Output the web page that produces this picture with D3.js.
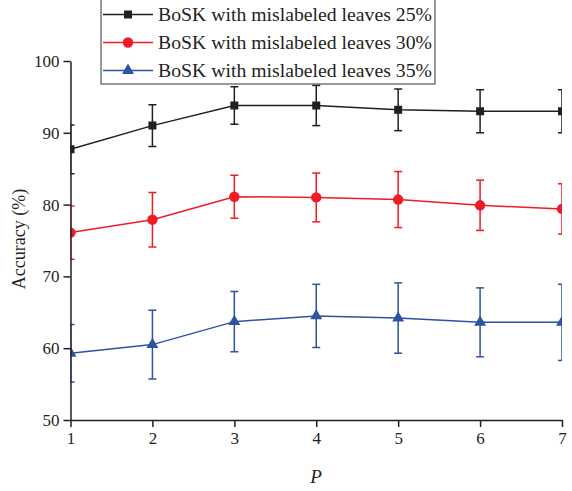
<!DOCTYPE html>
<html lang="en">
<head>
  <meta charset="UTF-8">
  <title>Accuracy vs P</title>
  <script src="https://d3js.org/d3.v7.min.js"></script>
  <style>
    body { margin: 0; background: #fff; }
    text { font-family: "Liberation Serif", serif; fill: #231f20; }
  </style>
</head>
<body>
  <div id="chart"></div>
  <script>
    // values
    const pValues = [1, 2, 3, 4, 5, 6, 7];
    const acc25 = [87.7, 91.0, 93.8, 93.8, 93.2, 93.0, 93.0];
    const err25 = [3.4, 2.9, 2.6, 2.8, 2.9, 3.0, 3.0];
    const acc30 = [76.1, 77.9, 81.1, 81.0, 80.7, 79.9, 79.4];
    const err30 = [3.7, 3.8, 3.0, 3.4, 3.9, 3.5, 3.5];
    const acc35 = [59.3, 60.5, 63.7, 64.5, 64.2, 63.6, 63.6];
    const err35 = [4.0, 4.8, 4.2, 4.4, 4.9, 4.8, 5.3];
    const seriesNames = ["BoSK with mislabeled leaves 25%", "BoSK with mislabeled leaves 30%", "BoSK with mislabeled leaves 35%"];
    const yTicks = [50, 60, 70, 80, 90, 100];

    const width = 572, height = 491;
    const margin = { top: 61, right: 10, bottom: 71, left: 70.5 };
    const colors = ["#231f20", "#ee1c25", "#2d53a3"];
    const shapes = [d3.symbolSquare, d3.symbolCircle, d3.symbolTriangle];
    const sizes = [64, 85, 62];

    const series = [acc25, acc30, acc35].map((vals, i) => ({
      name: seriesNames[i],
      color: colors[i],
      shape: shapes[i],
      size: sizes[i],
      points: pValues.map((p, j) => ({ p, v: vals[j], e: [err25, err30, err35][i][j] }))
    }));

    const x = d3.scaleLinear().domain([1, 7]).range([margin.left, 562]);
    const y = d3.scaleLinear().domain([50, 100]).range([420, margin.top]);

    const svg = d3.select("#chart").append("svg").attr("width", width).attr("height", height);

    svg.append("defs").append("clipPath").attr("id", "plotClip")
      .append("rect").attr("x", x(1)).attr("y", 0).attr("width", x(7) - x(1)).attr("height", y(50));

    const plot = svg.append("g").attr("clip-path", "url(#plotClip)");
    const line = d3.line().x(d => x(d.p)).y(d => y(d.v));

    series.forEach(s => {
      const g = plot.append("g");
      // error bars
      const eb = g.selectAll(".eb").data(s.points).enter().append("g");
      eb.append("line")
        .attr("x1", d => x(d.p)).attr("x2", d => x(d.p))
        .attr("y1", d => y(d.v - d.e)).attr("y2", d => y(d.v + d.e))
        .attr("stroke", s.color).attr("stroke-width", 1.5);
      [-1, 1].forEach(sign => {
        eb.append("line")
          .attr("x1", d => x(d.p) - 4).attr("x2", d => x(d.p) + 4)
          .attr("y1", d => y(d.v + sign * d.e)).attr("y2", d => y(d.v + sign * d.e))
          .attr("stroke", s.color).attr("stroke-width", 1.5);
      });
      g.append("path").datum(s.points)
        .attr("d", line).attr("fill", "none")
        .attr("stroke", s.color).attr("stroke-width", 1.5);
      g.selectAll(".mk").data(s.points).enter().append("path")
        .attr("transform", d => `translate(${x(d.p)},${y(d.v)})`)
        .attr("d", d3.symbol().type(s.shape).size(s.size))
        .attr("fill", s.color);
    });

    // axes
    const yAxis = d3.axisLeft(y).tickValues(yTicks).tickSize(7).tickSizeOuter(0).tickPadding(4);
    const xAxis = d3.axisBottom(x).tickValues(pValues).tickFormat(d3.format("d")).tickSize(7).tickSizeOuter(0).tickPadding(5);

    const gy = svg.append("g").attr("transform", `translate(${margin.left},0)`).call(yAxis);
    const gx = svg.append("g").attr("transform", `translate(0,${y(50)})`).call(xAxis);
    [gy, gx].forEach(g => {
      g.selectAll("path, line").attr("stroke", "#231f20").attr("stroke-width", 1.5);
      g.selectAll("text").style("font-family", "Liberation Serif").style("font-size", "17px").attr("fill", "#231f20");
    });

    svg.append("text")
      .attr("transform", `translate(25,239) rotate(-90)`)
      .attr("text-anchor", "middle")
      .style("font-size", "18px")
      .text("Accuracy (%)");

    svg.append("text")
      .attr("x", 316).attr("y", 483)
      .attr("text-anchor", "middle")
      .style("font-size", "19px").style("font-style", "italic")
      .text("P");

    // legend
    const legend = svg.append("g");
    legend.append("rect")
      .attr("x", 101).attr("y", -2).attr("width", 334).attr("height", 86)
      .attr("fill", "#fff").attr("stroke", "#555").attr("stroke-width", 1.2);
    const rowY = [14.5, 42.5, 70.5];
    series.forEach((s, i) => {
      const row = legend.append("g").attr("transform", `translate(0,${rowY[i]})`);
      row.append("line").attr("x1", 103).attr("x2", 153).attr("y1", 0).attr("y2", 0)
        .attr("stroke", s.color).attr("stroke-width", 1.5);
      row.append("path").attr("transform", "translate(128,0)")
        .attr("d", d3.symbol().type(s.shape).size(s.size)).attr("fill", s.color);
      row.append("text").attr("x", 158).attr("y", 6)
        .attr("textLength", 274).attr("lengthAdjust", "spacingAndGlyphs")
        .style("font-size", "18px")
        .text(s.name);
    });
  </script>
</body>
</html>
